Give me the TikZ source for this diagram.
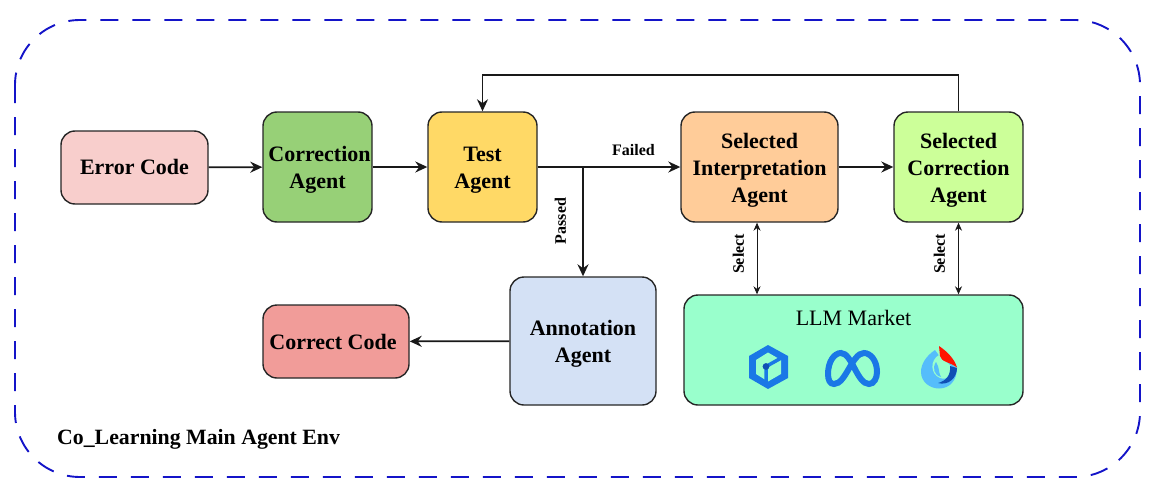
\documentclass[tikz,border=0pt]{standalone}
\usepackage{fontspec}
\setmainfont{Liberation Serif}
\usetikzlibrary{arrows.meta}
\definecolor{envblue}{HTML}{1414C8}
\definecolor{icoblue}{HTML}{1A78E6}
\definecolor{icodark}{HTML}{0F4FB4}
\definecolor{icolight}{HTML}{55BDFB}
\definecolor{llmgreen}{HTML}{99FFCC}
\newcommand{\lowered}{\rule{0pt}{21pt}}
\tikzset{
	agent/.style={draw=black!85,line width=1.4pt,rounded corners=14pt,align=center,inner sep=0pt,
		font=\fontsize{22}{27}\selectfont\bfseries},
	flow/.style={draw=black!90,line width=1.8pt,-{Stealth[length=12pt,width=11pt]}},
	sel/.style={draw=black!90,line width=.8pt,{Stealth[length=8pt,width=7pt]}-{Stealth[length=8pt,width=7pt]}},
	tag/.style={font=\fontsize{16}{18}\selectfont\bfseries,inner sep=0pt}
}
\begin{document}
\begin{tikzpicture}[x=1pt,y=-1pt]
	\useasboundingbox (0,0) rectangle (1161,487);
	
	%ENV
	\draw[envblue,line width=1.9pt,dash pattern=on 18pt off 14pt,rounded corners=65pt] (15,20) rectangle (1140,477);
	\node[anchor=west,font=\fontsize{21.8}{27}\selectfont\bfseries,inner sep=0pt] (envname) at (57,439) {Co\_Learning Main Agent Env};
	
	%AGENTS
	\node[agent,fill={rgb,255:red,248;green,206;blue,204},minimum width=147pt,minimum height=73pt] (error) at (134.5,167.5) {\raisebox{1pt}{Error Code}};
	\node[agent,fill={rgb,255:red,151;green,208;blue,119},minimum width=109pt,minimum height=110pt] (correction) at (317.5,167) {\lowered\hspace*{4pt}Correction\\Agent};
	\node[agent,fill={rgb,255:red,255;green,217;blue,102},minimum width=109pt,minimum height=110pt] (test) at (482.5,167) {\lowered Test\\Agent};
	\node[agent,fill={rgb,255:red,255;green,204;blue,153},minimum width=157pt,minimum height=110pt] (interp) at (759.5,167) {\lowered Selected\\Interpretation\\Agent};
	\node[agent,fill={rgb,255:red,204;green,255;blue,153},minimum width=129pt,minimum height=110pt] (selcorr) at (958.5,167) {\lowered Selected\\Correction\\Agent};
	\node[agent,fill={rgb,255:red,212;green,225;blue,245},minimum width=146pt,minimum height=128pt] (annot) at (583,341) {\lowered Annotation\\Agent};
	\node[agent,fill={rgb,255:red,241;green,156;blue,153},minimum width=146pt,minimum height=73pt] (correct) at (336,341.5) {Correct Code\hspace*{6pt}};
	\node[agent,fill=llmgreen,minimum width=339pt,minimum height=110pt] (llm) at (853.5,350) {};
	\node[font=\fontsize{22}{27}\selectfont,inner sep=0pt] (market) at (853.5,318) {LLM Market};
	
	%ARROWS
	\coordinate (split) at (583,167);
	\coordinate (back) at (958.5,75);
	\draw[flow] (error) -- (correction);
	\draw[flow] (correction) -- (test);
	\draw[flow] (test) -- (interp);
	\draw[flow] (interp) -- (selcorr);
	\draw[flow] (split) -- (annot);
	\draw[flow] (annot) -- (correct);
	\draw[flow] (selcorr) -- (back) -| (test);
	\draw[sel] ([xshift=-2.5pt]interp.south) -- ([xshift=-2.5pt]interp.south |- llm.north);
	\draw[sel] (selcorr.south) -- (selcorr.south |- llm.north);
	
	%LABELS
	\node[tag] (failed) at (633.5,150) {Failed};
	\node[tag,rotate=90] (passed) at (560.5,221) {Passed};
	\node[tag,rotate=90] (select1) at (738.5,254) {Select};
	\node[tag,rotate=90] (select2) at (939.5,254) {Select};
	
	%ICONS
	\fill[icoblue] (768,345) -- (788,356) -- (788,378) -- (768,389) -- (749,378) -- (749,356) -- cycle;
	\fill[llmgreen] (768,352.5) -- (781,360) -- (781,374) -- (768,381.5) -- (756,374) -- (756,360) -- cycle;
	\draw[icoblue,line width=3.5pt] (783,357) -- (766,366.5) -- (766,383);
	\fill[icodark] (766,366.5) circle (3.4);
	\draw[icoblue,line width=6pt] (828,374) .. controls (828,362) and (834,353) .. (841,353) .. controls (852,353) and (857,384) .. (869,384) .. controls (874,384) and (877,378) .. (877,372) .. controls (877,360) and (870,353) .. (864,353) .. controls (852,353) and (846,384) .. (834,384) .. controls (830,384) and (828,380) .. (828,374) -- cycle;
	\fill[icolight] (935,350) .. controls (926,356) and (921,364) .. (921,372) .. controls (921,382) and (930,388.5) .. (939,388.5) .. controls (950,388.5) and (957,380) .. (957,368) -- (940,357) -- cycle;
	\fill[llmgreen] (939,355) .. controls (930,360) and (930,374) .. (940,378) .. controls (948,381) and (952,374) .. (951,366) -- cycle;
	\fill[icolight] (936,362) .. controls (932,368) and (934,375) .. (941,377) .. controls (938,372) and (940,368) .. (936,362) -- cycle;
	\fill[icodark] (957,368) .. controls (957,378) and (948,386) .. (938,383) .. controls (946,381) and (951,375) .. (950,366) -- cycle;
	\fill[red!85!orange] (939,346) .. controls (948,352) and (955,360) .. (957,367.5) .. controls (950,362) and (941,362) .. (940,356) -- cycle;
\end{tikzpicture}
\end{document}
